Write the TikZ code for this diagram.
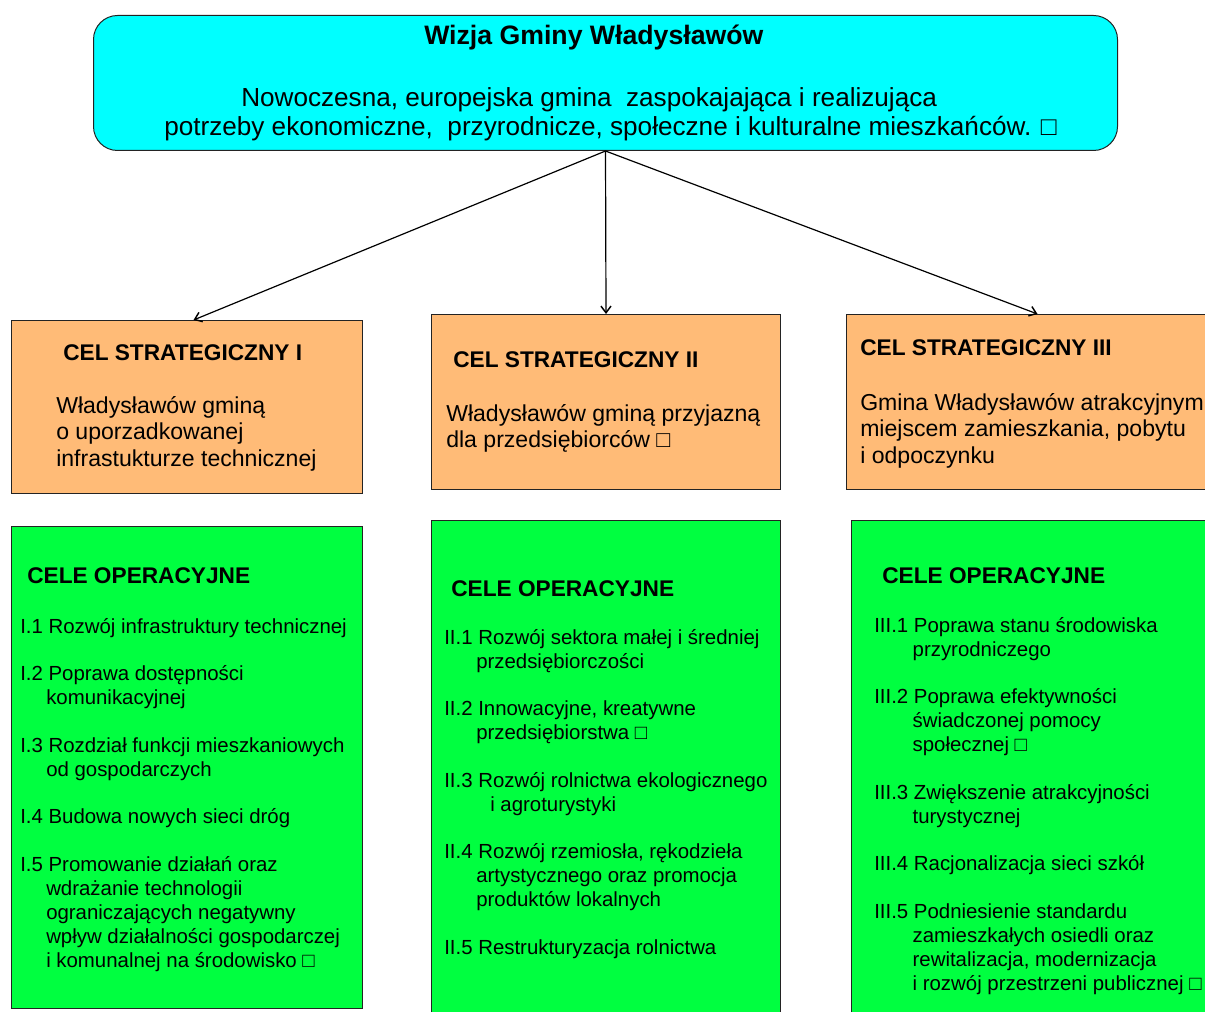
\documentclass[tikz,border=0pt]{standalone}
\usepackage{fontspec}
\setmainfont{Liberation Sans}
\usetikzlibrary{arrows.meta,positioning}

\definecolor{visioncyan}{RGB}{0,255,255}
\definecolor{celorange}{RGB}{255,187,119}
\definecolor{opgreen}{RGB}{0,255,64}
\definecolor{edgegray}{RGB}{35,35,35}

\begin{document}
\begin{tikzpicture}[x=0.75pt,y=-0.75pt,
  box/.style={draw=edgegray, line width=0.75pt, inner sep=0, anchor=north west},
  visionbox/.style={box, fill=visioncyan, rounded corners=18pt},
  celbox/.style={box, fill=celorange},
  opbox/.style={box, fill=opgreen},
  txt/.style={inner sep=0, anchor=base west},
  head/.style={txt, font=\fontsize{17}{20}\selectfont\bfseries},
  celtxt/.style={inner sep=0, anchor=north west, align=left, font=\fontsize{17.3}{19.9}\selectfont},
  optxt/.style={inner sep=0, anchor=north west, align=left, font=\fontsize{15.3}{18}\selectfont},
  link/.style={draw=black, line width=0.9pt, -{Straight Barb[length=5pt,width=7.5pt,line width=1.1pt]}}]
  \useasboundingbox (0,0) rectangle (1205,1012);

  % boxes
  \node[visionbox, minimum width=768pt, minimum height=101.25pt] (vision) at (93,15) {};
  \node[celbox, minimum width=263.25pt, minimum height=129.75pt] (cel1) at (11,320) {};
  \node[celbox, minimum width=261.75pt, minimum height=131.25pt] (cel2) at (431,314) {};
  \node[celbox, minimum width=286.5pt, minimum height=131.25pt] (cel3) at (846,314) {};
  \node[opbox, minimum width=263.25pt, minimum height=361.5pt] (op1) at (11,526) {};
  \node[opbox, minimum width=261.75pt, minimum height=390pt] (op2) at (431,520) {};
  \node[opbox, minimum width=282.75pt, minimum height=390pt] (op3) at (851,520) {};

  % arrows
  \draw[link] (vision.south) -- ([xshift=4.9pt]cel1.north);
  \draw[link] (vision.south) -- (cel2.north);
  \draw[link] (vision.south) -- (cel3.north);

  % vision text
  \node[txt, font=\fontsize{20}{24}\selectfont\bfseries] (vtitle) at (424,45) {Wizja Gminy Władysławów};
  \node[txt, font=\fontsize{19.6}{24}\selectfont] (vline1) at (241,107)
    {Nowoczesna, europejska gmina\ \ zaspokajająca i realizująca};
  \node[txt, font=\fontsize{19.6}{24}\selectfont] (vline2) at (164,136)
    {potrzeby ekonomiczne,\ \ przyrodnicze, społeczne i kulturalne mieszkańców. □};

  % strategic goals
  \node[head] (cel1head) at (63,360) {CEL STRATEGICZNY I};
  \node[celtxt] (cel1text) at (56,394.4)
    {\strut Władysławów gminą\\o uporzadkowanej\\infrastukturze technicznej};
  \node[head] (cel2head) at (453,367) {CEL STRATEGICZNY II};
  \node[celtxt] (cel2text) at (446,402.4)
    {\strut Władysławów gminą przyjazną\\dla przedsiębiorców □};
  \node[head] (cel3head) at (860,355) {CEL STRATEGICZNY III};
  \node[celtxt] (cel3text) at (860,391.4)
    {\strut Gmina Władysławów atrakcyjnym\\miejscem zamieszkania, pobytu\\i odpoczynku};

  % operational goals
  \node[head] (op1head) at (27,583) {CELE OPERACYJNE};
  \node[optxt] (op1text) at (20,616.2)
    {\strut I.1 Rozwój infrastruktury technicznej\\[17.6pt]
     I.2 Poprawa dostępności\\\hspace*{19.5pt}komunikacyjnej\\[17.6pt]
     I.3 Rozdział funkcji mieszkaniowych\\\hspace*{19.5pt}od gospodarczych\\[17.6pt]
     I.4 Budowa nowych sieci dróg\\[17.6pt]
     I.5 Promowanie działań oraz\\\hspace*{19.5pt}wdrażanie technologii\\
     \hspace*{19.5pt}ograniczających negatywny\\\hspace*{19.5pt}wpływ działalności gospodarczej\\
     \hspace*{19.5pt}i komunalnej na środowisko □};

  \node[head] (op2head) at (451,596) {CELE OPERACYJNE};
  \node[optxt] (op2text) at (444,627.2)
    {\strut II.1 Rozwój sektora małej i średniej\\\hspace*{24pt}przedsiębiorczości\\[17.6pt]
     II.2 Innowacyjne, kreatywne\\\hspace*{24pt}przedsiębiorstwa □\\[17.6pt]
     II.3 Rozwój rolnictwa ekologicznego\\\hspace*{34.5pt}i agroturystyki\\[17.6pt]
     II.4 Rozwój rzemiosła, rękodzieła\\\hspace*{24pt}artystycznego oraz promocja\\
     \hspace*{24pt}produktów lokalnych\\[17.6pt]
     II.5 Restrukturyzacja rolnictwa};

  \node[head] (op3head) at (882,583) {CELE OPERACYJNE};
  \node[optxt] (op3text) at (874,615.2)
    {\strut III.1 Poprawa stanu środowiska\\\hspace*{28.8pt}przyrodniczego\\[17.6pt]
     III.2 Poprawa efektywności\\\hspace*{28.8pt}świadczonej pomocy\\\hspace*{28.8pt}społecznej □\\[17.6pt]
     III.3 Zwiększenie atrakcyjności\\\hspace*{28.8pt}turystycznej\\[17.6pt]
     III.4 Racjonalizacja sieci szkół\\[17.6pt]
     III.5 Podniesienie standardu\\\hspace*{28.8pt}zamieszkałych osiedli oraz\\
     \hspace*{28.8pt}rewitalizacja, modernizacja\\\hspace*{28.8pt}i rozwój przestrzeni publicznej □};
\end{tikzpicture}
\end{document}
